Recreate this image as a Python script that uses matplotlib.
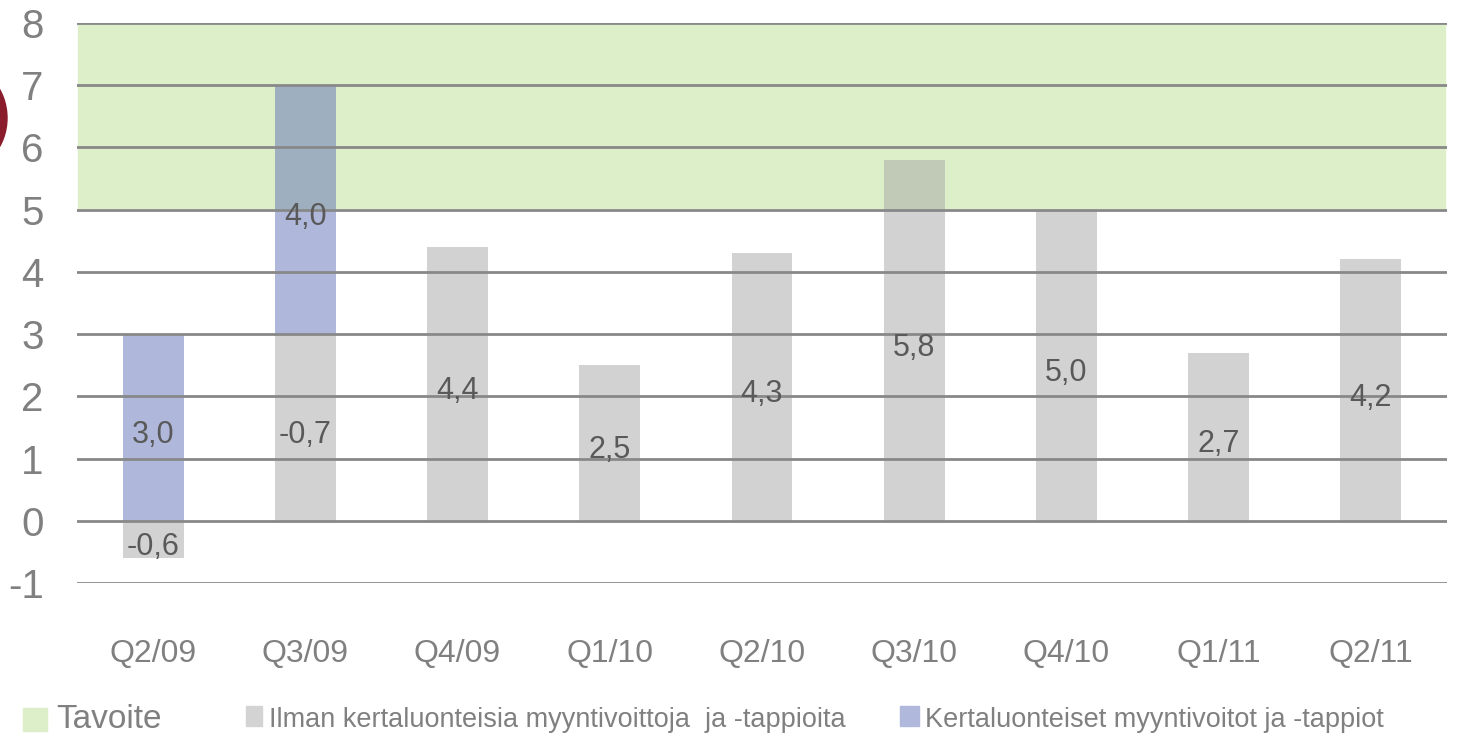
import numpy as np
import matplotlib.pyplot as plt
from matplotlib.patches import Rectangle, Ellipse

# -----------------------------
# DATA
# -----------------------------
quarters = ["Q2/09", "Q3/09", "Q4/09", "Q1/10", "Q2/10", "Q3/10", "Q4/10", "Q1/11", "Q2/11"]
# grey bars (without one-off gains/losses), heights as drawn
ilman_values = [-0.6, 3.0, 4.4, 2.5, 4.3, 5.8, 5.0, 2.7, 4.2]
ilman_labels = ["-0,6", "-0,7", "4,4", "2,5", "4,3", "5,8", "5,0", "2,7", "4,2"]
# blue bars (one-off gains/losses), stacked on top of the grey
kerta_values = [3.0, 4.0, 0, 0, 0, 0, 0, 0, 0]
kerta_labels = ["3,0", "4,0", "", "", "", "", "", "", ""]
# target range
tavoite_low, tavoite_high = 5, 8

legend_names = ["Tavoite",
                "Ilman kertaluonteisia myyntivoittoja  ja -tappioita",
                "Kertaluonteiset myyntivoitot ja -tappiot"]

# -----------------------------
# STYLE
# -----------------------------
plt.rcParams['font.family'] = ['Liberation Sans', 'DejaVu Sans']
GREEN = "#dcefc8"
GREY = "#a7a7a7"
BLUE = "#6173b9"
GRID = "#888888"
TXT = "#808080"
LBL = "#595959"

W, H = 1457, 741
fig = plt.figure(figsize=(W / 100, H / 100), dpi=100)
ax = fig.add_axes([77 / W, 1 - 583 / H, 1370 / W, 560 / H])

x = np.arange(len(quarters))
width = 0.4

# target band below everything
ax.axhspan(tavoite_low, tavoite_high, color=GREEN, zorder=0, lw=1.2, ec="white")

# bars
ilman = np.array(ilman_values)
kerta = np.array(kerta_values)
bottoms = np.maximum(ilman, 0)
ax.bar(x, ilman, width, color=GREY, alpha=0.5, zorder=2, lw=0)
ax.bar(x, kerta, width, bottom=bottoms, color=BLUE, alpha=0.5, zorder=2, lw=0)

# data labels
for i in range(len(quarters)):
    ax.text(x[i], ilman[i] / 2 - 0.12, ilman_labels[i], ha="center", va="center",
            fontsize=22, color=LBL, zorder=3)
    if kerta_labels[i]:
        ax.text(x[i], bottoms[i] + kerta[i] / 2 - 0.12, kerta_labels[i], ha="center",
                va="center", fontsize=22, color=LBL, zorder=3)

ax.set_xlim(-0.5, len(quarters) - 0.5)
ax.set_ylim(-1, 8)
ax.set_yticks(range(-1, 9))
ax.set_yticklabels([str(v) for v in range(-1, 9)])
ax.set_xticks(x)
ax.set_xticklabels(quarters)
ax.tick_params(axis="y", length=0, pad=24, labelsize=29, labelcolor=TXT)
ax.tick_params(axis="x", length=0, pad=40, labelsize=23, labelcolor=TXT)
ax.yaxis.grid(True, color=GRID, lw=2.0, zorder=1)
ax.set_axisbelow(False)
for s in ax.spines.values():
    s.set_visible(False)
for gl in ax.get_ygridlines():
    gl.set_zorder(1)

# -----------------------------
# LEGEND (drawn by hand to match the layout)
# -----------------------------
fig.patches.append(Rectangle((23 / W, 1 - 731 / H), 24 / W, 23 / H, color=GREEN,
                             transform=fig.transFigure))
fig.text(56 / W, 1 - 719 / H, legend_names[0], fontsize=24, color=TXT, va="center")
fig.patches.append(Rectangle((246 / W, 1 - 726 / H), 16 / W, 20 / H, color="#d3d3d3",
                             transform=fig.transFigure))
fig.text(269 / W, 1 - 720 / H, legend_names[1], fontsize=19.5, color=TXT, va="center")
fig.patches.append(Rectangle((900 / W, 1 - 726 / H), 19 / W, 20 / H, color="#b0b9dc",
                             transform=fig.transFigure))
fig.text(925 / W, 1 - 720 / H, legend_names[2], fontsize=19.5, color=TXT, va="center")

# cropped logo on the left edge
fig.patches.append(Ellipse((-38 / W, 1 - 118 / H), 90 / W, 104 / H, color="#8a1c2b",
                           transform=fig.transFigure))

fig.savefig("out.png", dpi=100)
